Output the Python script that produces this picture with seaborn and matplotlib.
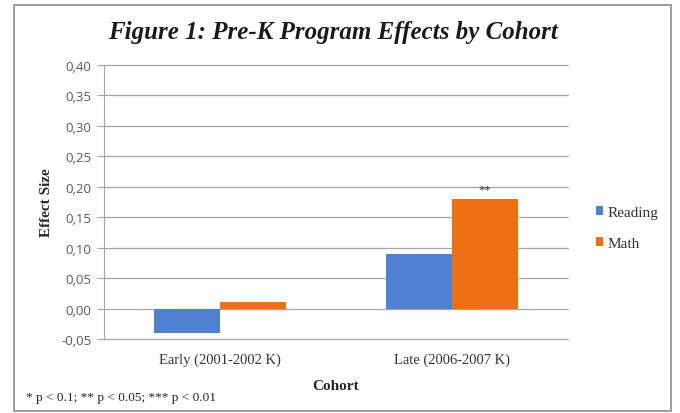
import matplotlib
matplotlib.use("Agg")
import matplotlib.pyplot as plt
import matplotlib.ticker as mticker
from matplotlib.patches import Rectangle
import seaborn as sns
import pandas as pd

cohorts = ["Early (2001-2002 K)", "Late (2006-2007 K)"]
reading = [-0.04, 0.09]
math_vals = [0.01, 0.18]
series = ["Reading", "Math"]
colors = ["#4F81D3", "#EE7012"]
yticks = [-0.05, 0.0, 0.05, 0.10, 0.15, 0.20, 0.25, 0.30, 0.35, 0.40]

df = pd.DataFrame({
    "Cohort": cohorts * 2,
    "Effect": reading + math_vals,
    "Series": [series[0]] * 2 + [series[1]] * 2,
})

sns.set_style("white")
serif = ["Liberation Serif", "DejaVu Serif"]

fig = plt.figure(figsize=(6.8, 4.14), dpi=100)
ax = fig.add_axes([104 / 680, 1 - 340 / 414, (568 - 104) / 680, (340 - 66) / 414])

sns.barplot(data=df, x="Cohort", y="Effect", hue="Series", palette=colors,
            width=0.57, saturation=1, ax=ax, zorder=3, linewidth=0, edgecolor="none")

ax.set_ylim(-0.05, 0.40)
ax.set_xlim(-0.5, 1.5)
ax.set_yticks(yticks)
ax.yaxis.set_major_formatter(mticker.FuncFormatter(lambda v, p: f"{v:.2f}".replace(".", ",")))
ax.grid(axis="y", color="#A6A6A6", linewidth=0.9, zorder=0)
for gl in ax.get_ygridlines():
    gl.set_clip_on(False)
ax.set_axisbelow(True)
for s in ["top", "right", "bottom"]:
    ax.spines[s].set_visible(False)
ax.spines["left"].set_color("#A6A6A6")
ax.tick_params(axis="y", which="major", left=True, length=5, color="#A6A6A6",
               labelsize=9.5, labelcolor="#595959", pad=4)
ax.tick_params(axis="x", length=0, pad=10)
for lbl in ax.get_yticklabels():
    lbl.set_family("Open Sans")
for lbl in ax.get_xticklabels():
    lbl.set_family(serif)
    lbl.set_fontsize(10.5)
    lbl.set_color("#333333")

ax.set_xlabel("Cohort", family=serif, fontsize=11, fontweight="bold", labelpad=9)
ax.set_ylabel("Effect Size", family=serif, fontsize=11, fontweight="bold", labelpad=6)

# significance marker above Late Math bar
late_math = max([b for b in ax.patches if b.get_height() > 0], key=lambda b: b.get_height())
ax.text(late_math.get_x() + late_math.get_width() / 2, late_math.get_height() + 0.006, "**",
        ha="center", va="bottom", fontsize=9, family=serif, color="#333333")

leg = ax.legend(loc="center left", bbox_to_anchor=(1.03, 0.405), frameon=False,
                prop={"family": serif, "size": 11}, handlelength=0.5, handleheight=0.5,
                handletextpad=0.3, labelspacing=1.2)
for t in leg.get_texts():
    t.set_color("#333333")

fig.text(333 / 680, 1 - 32 / 414, "Figure 1: Pre-K Program Effects by Cohort",
         ha="center", va="center", family=serif, fontsize=18,
         fontweight="bold", fontstyle="italic", color="#1a1a1a")

fig.text(26 / 680, 1 - 398 / 414, "* p < 0.1; ** p < 0.05; *** p < 0.01",
         ha="left", va="center", family=serif, fontsize=9.5, color="#222222")

fig.patches.append(Rectangle((14 / 680, 1 - 412 / 414), (671 - 14) / 680, (412 - 6) / 414,
                             transform=fig.transFigure, fill=False,
                             edgecolor="#8C8C8C", linewidth=1.2))

fig.savefig("out.png", dpi=100)
